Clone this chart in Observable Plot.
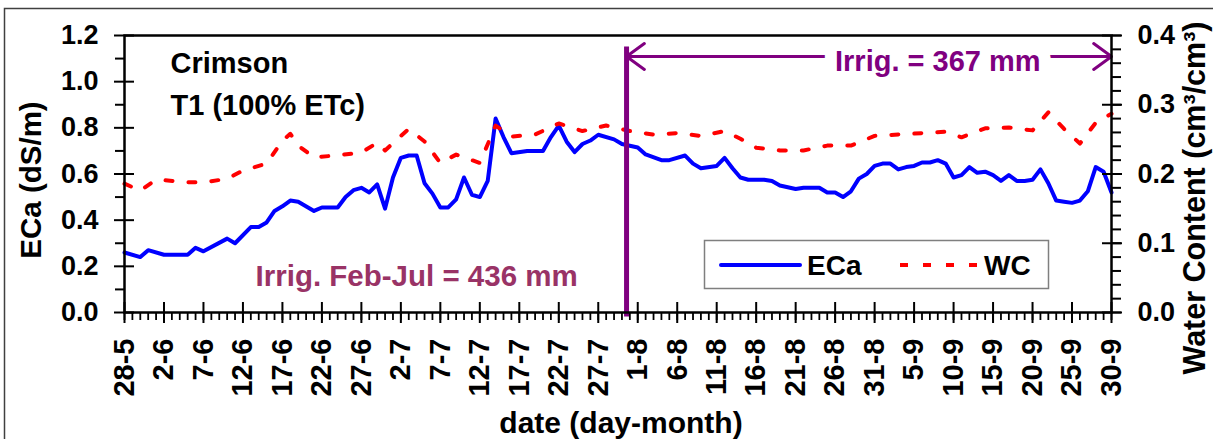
<!DOCTYPE html>
<html><head><meta charset="utf-8">
<script src="https://cdn.jsdelivr.net/npm/d3@7"></script>
<script src="https://cdn.jsdelivr.net/npm/@observablehq/plot@0.6"></script>
<style>html,body{margin:0;padding:0;background:#fff;overflow:hidden}</style>
</head><body><div id="chart"></div>
<script>
// ---- data (day-month) ----
const ecaDates = ["28-5","30-5","31-5","2-6","5-6","6-6","7-6","10-6","11-6","13-6",
  "14-6","15-6","16-6","17-6","18-6","19-6","21-6","22-6","24-6","25-6",
  "26-6","27-6","28-6","29-6","30-6","1-7","2-7","3-7","4-7","5-7",
  "6-7","7-7","8-7","9-7","10-7","11-7","12-7","13-7","14-7","15-7",
  "16-7","18-7","20-7","21-7","22-7","23-7","24-7","25-7","26-7","27-7",
  "29-7","30-7","1-8","2-8","4-8","5-8","7-8","8-8","9-8","11-8",
  "12-8","13-8","14-8","15-8","17-8","18-8","19-8","21-8","22-8","24-8",
  "25-8","26-8","27-8","28-8","29-8","30-8","31-8","1-9","2-9","3-9",
  "4-9","5-9","6-9","7-9","8-9","9-9","10-9","11-9","12-9","13-9",
  "14-9","15-9","16-9","17-9","18-9","19-9","20-9","21-9","22-9","23-9",
  "24-9","25-9","26-9","27-9","28-9","29-9","30-9"];
const ecaValues = [0.26,0.24,0.27,0.25,0.25,0.28,0.265,0.32,0.30,0.37,
  0.37,0.39,0.44,0.46,0.485,0.48,0.44,0.455,0.455,0.50,
  0.53,0.54,0.52,0.555,0.45,0.585,0.67,0.68,0.68,0.56,
  0.515,0.455,0.455,0.49,0.585,0.51,0.50,0.57,0.84,0.76,
  0.69,0.70,0.70,0.76,0.81,0.74,0.695,0.73,0.745,0.77,
  0.75,0.73,0.715,0.685,0.66,0.66,0.68,0.645,0.625,0.635,
  0.67,0.625,0.585,0.575,0.575,0.57,0.55,0.535,0.54,0.54,
  0.52,0.52,0.50,0.525,0.58,0.60,0.635,0.645,0.645,0.62,
  0.63,0.635,0.65,0.65,0.66,0.645,0.585,0.595,0.63,0.605,
  0.61,0.595,0.57,0.595,0.57,0.57,0.575,0.62,0.56,0.485,
  0.48,0.475,0.485,0.525,0.63,0.61,0.52];
const wcDates = ["28-5","30-5","1-6","5-6","7-6","10-6","12-6","15-6","17-6","18-6",
  "19-6","21-6","24-6","27-6","29-6","30-6","2-7","3-7","5-7","7-7",
  "9-7","12-7","14-7","16-7","19-7","22-7","25-7","28-7","31-7","3-8",
  "6-8","9-8","12-8","14-8","16-8","19-8","22-8","25-8","28-8","31-8",
  "3-9","6-9","9-9","11-9","14-9","17-9","20-9","22-9","24-9","26-9",
  "28-9","30-9"];
const wcValues = [0.186,0.176,0.192,0.188,0.188,0.193,0.205,0.215,0.248,0.258,
  0.241,0.224,0.227,0.231,0.245,0.234,0.255,0.265,0.247,0.216,
  0.228,0.216,0.27,0.254,0.257,0.273,0.262,0.27,0.262,0.257,
  0.259,0.255,0.262,0.251,0.238,0.234,0.234,0.241,0.241,0.255,
  0.257,0.259,0.261,0.253,0.266,0.267,0.263,0.289,0.265,0.244,
  0.274,0.287];
const xLabelDates = ["28-5","2-6","7-6","12-6","17-6","22-6","27-6","2-7","7-7","12-7",
  "17-7","22-7","27-7","1-8","6-8","11-8","16-8","21-8","26-8","31-8",
  "5-9","10-9","15-9","20-9","25-9","30-9"];
const leftTicks = [0, 0.2, 0.4, 0.6, 0.8, 1.0, 1.2];
const leftMinorTicks = [0.1, 0.3, 0.5, 0.7, 0.9, 1.1];
const rightTicks = [0, 0.1, 0.2, 0.3, 0.4];
const rightMinorStep = 0.02;
const ecaMax = 1.2, wcMax = 0.4;

// annotations
const irrigStart = "2013-07-30T14:00Z";
const irrigEnd = "30-9";
const irrigTextDate = "8-9";
const arrowLevel = 1.109;
const irrigLineTop = 1.15;
const irrigLabel = "Irrig. = 367 mm";
const irrigLabelLevel = 1.085;
const earlyLabel = "Irrig. Feb-Jul = 436 mm";
const earlyLabelDate = "4-7";
const earlyLabelLevel = 0.156;
const titleText = "Crimson\nT1 (100% ETc)";

const year = 2013;
const parseDM = s => { const [d, m] = s.split("-").map(Number); return new Date(Date.UTC(year, m - 1, d)); };
const fmtDM = d => `${d.getUTCDate()}-${d.getUTCMonth() + 1}`;
const ratio = ecaMax / wcMax;

const ecaData = ecaDates.map((d, i) => ({date: parseDM(d), eca: ecaValues[i]}));
const wcData = wcDates.map((d, i) => ({date: parseDM(d), wc: wcValues[i]}));
const x0 = parseDM("28-5"), x1 = parseDM("30-9");
const dayTicks = d3.utcDay.range(x0, d3.utcDay.offset(x1, 1));
const labelTicks = xLabelDates.map(parseDM);
const rightMinor = d3.range(0, wcMax + 1e-9, rightMinorStep).map(w => w * ratio);

const FONT = "'Liberation Sans', Arial, Helvetica, sans-serif";
const PURPLE = "#800080";

const plot = Plot.plot({
  width: 1213, height: 439,
  marginLeft: 124, marginRight: 102, marginTop: 35, marginBottom: 127,
  style: {fontFamily: FONT, fontWeight: "bold", background: "white", color: "black"},
  x: {type: "utc", domain: [x0, x1]},
  y: {domain: [0, ecaMax]},
  marks: [
    Plot.line(ecaData, {x: "date", y: "eca", stroke: "#0000ff", strokeWidth: 4, strokeLinejoin: "round"}),
    Plot.line(wcData, {x: "date", y: d => d.wc * ratio, stroke: "#ff0000", strokeWidth: 4, strokeDasharray: "7,16"}),
    Plot.ruleX([new Date(irrigStart)], {x: d => d, y1: () => -0.02, y2: () => irrigLineTop, stroke: PURPLE, strokeWidth: 5}),
    Plot.arrow([{a: parseDM(irrigTextDate), b: new Date(irrigStart)}, {a: parseDM(irrigTextDate), b: parseDM(irrigEnd)}], {
      x1: "a", x2: "b", y1: () => arrowLevel, y2: () => arrowLevel,
      stroke: PURPLE, strokeWidth: 3, headAngle: 72, headLength: 11
    }),
    Plot.text([irrigLabel], {x: () => parseDM(irrigTextDate), y: () => irrigLabelLevel, text: d => d,
      fill: PURPLE, stroke: "white", strokeWidth: 24, paintOrder: "stroke", strokeLinejoin: "round", fontSize: 29}),
    Plot.text([earlyLabel], {x: () => parseDM(earlyLabelDate), y: () => earlyLabelLevel, text: d => d,
      fill: "#993366", fontSize: 29.5}),
    Plot.text([titleText], {frameAnchor: "top-left", textAnchor: "start", lineAnchor: "top", dx: 46, dy: 8,
      lineHeight: 1.45, fontSize: 29, fill: "black"}),
    Plot.frame({stroke: "black", strokeWidth: 2.5}),
    // x axis: minor, major (crossing), labels
    Plot.axisX({ticks: dayTicks, tickSize: 8, tickFormat: () => "", strokeWidth: 1.8, label: null}),
    Plot.axisX({ticks: labelTicks, tickSize: 21, dy: -10, tickFormat: () => "", strokeWidth: 2, label: null}),
    Plot.axisX({ticks: labelTicks, tickSize: 0, tickPadding: 26, tickRotate: -90, tickFormat: fmtDM, fontSize: 29, label: null}),
    // left y axis
    Plot.axisY({ticks: leftMinorTicks, tickSize: 9, tickFormat: () => "", strokeWidth: 2, label: null}),
    Plot.axisY({ticks: leftTicks, tickSize: 20, dx: 10, tickFormat: () => "", strokeWidth: 2, label: null}),
    Plot.axisY({ticks: leftTicks, tickSize: 0, tickPadding: 26, tickFormat: d3.format(".1f"), fontSize: 27, label: null}),
    // right y axis (water content)
    Plot.axisY({anchor: "right", ticks: rightMinor, tickSize: 9, tickFormat: () => "", strokeWidth: 2, label: null}),
    Plot.axisY({anchor: "right", ticks: rightTicks.map(w => w * ratio), tickSize: 20, dx: -10, tickFormat: () => "", strokeWidth: 2, label: null}),
    Plot.axisY({anchor: "right", ticks: rightTicks.map(w => w * ratio), tickSize: 0, tickPadding: 26,
      tickFormat: v => (v / ratio).toFixed(1), fontSize: 27, label: null}),
    // axis titles
    Plot.text(["ECa (dS/m)"], {frameAnchor: "left", textAnchor: "middle", lineAnchor: "middle", rotate: -90, dx: -93, dy: 6, fontSize: 29.5, fill: "black"}),
    Plot.text(["Water Content (cm³/cm³)"], {frameAnchor: "right", textAnchor: "middle", lineAnchor: "middle", rotate: -90, dx: 84, dy: 24, fontSize: 30.5, fill: "black"}),
    Plot.text(["date (day-month)"], {frameAnchor: "bottom", textAnchor: "middle", lineAnchor: "bottom", dx: 3, dy: 120, fontSize: 30, fill: "black"})
  ]
});

// legend and outer border
const svg = d3.select(plot);
const lg = svg.append("g").attr("font-size", 28).attr("font-weight", "bold").attr("font-family", FONT).attr("text-anchor", "start");
lg.append("rect").attr("x", 704.5).attr("y", 240.5).attr("width", 344).attr("height", 48)
  .attr("fill", "white").attr("stroke", "#7f7f7f").attr("stroke-width", 1.5);
lg.append("line").attr("x1", 721).attr("x2", 800).attr("y1", 265).attr("y2", 265)
  .attr("stroke", "#0000ff").attr("stroke-width", 4).attr("stroke-linecap", "round");
lg.append("text").attr("x", 807).attr("y", 275).text("ECa");
lg.append("line").attr("x1", 900).attr("x2", 978).attr("y1", 265).attr("y2", 265)
  .attr("stroke", "#ff0000").attr("stroke-width", 4).attr("stroke-dasharray", "8,15");
lg.append("text").attr("x", 984).attr("y", 275).text("WC");
svg.append("rect").attr("x", 4.5).attr("y", 8.5).attr("width", 1400).attr("height", 600)
  .attr("fill", "none").attr("stroke", "#404040").attr("stroke-width", 1.5);

document.getElementById("chart").appendChild(plot);
</script>
</body></html>
